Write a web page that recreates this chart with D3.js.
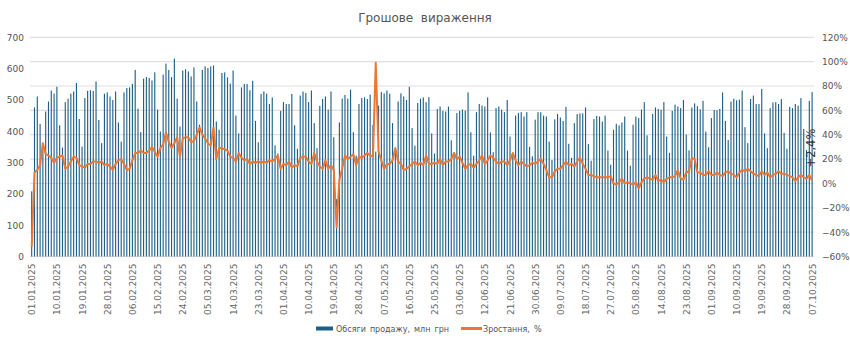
<!DOCTYPE html>
<html>
<head>
<meta charset="utf-8">
<script src="https://cdn.jsdelivr.net/npm/d3@7"></script>
<style>
  html, body { margin: 0; padding: 0; background: #fff; }
  svg { display: block; font-family: "DejaVu Sans", Verdana, sans-serif; }
</style>
</head>
<body>
<svg id="chart" width="850" height="343"></svg>
<script>
// Daily card sales, 01.01.2025 – 07.10.2025
const startDay = new Date(2025, 0, 1);
const endDay = new Date(2025, 9, 8);

// Sales volume, mln UAH (one value per day)
const salesVolume = [
  208, 476, 511, 423, 352, 463, 495, 530, 520, 542,
  419, 348, 493, 504, 520, 527, 554, 439, 351, 506,
  529, 531, 529, 559, 436, 362, 520, 524, 511, 500,
  527, 428, 367, 524, 538, 540, 551, 596, 472, 397,
  568, 573, 570, 562, 588, 469, 399, 581, 616, 596,
  573, 632, 504, 415, 594, 598, 591, 575, 604, 495,
  421, 596, 607, 602, 607, 610, 431, 405, 586, 588,
  572, 552, 594, 450, 393, 540, 551, 551, 531, 561,
  433, 365, 519, 527, 520, 487, 508, 355, 329, 465,
  493, 487, 487, 519, 419, 344, 514, 527, 522, 493,
  530, 426, 346, 481, 503, 511, 469, 527, 381, 183,
  428, 504, 516, 504, 533, 397, 322, 487, 506, 508,
  503, 517, 420, 335, 482, 525, 521, 530, 520, 426,
  346, 495, 521, 511, 500, 542, 410, 354, 490, 504,
  508, 493, 509, 393, 329, 471, 479, 465, 463, 479,
  371, 333, 458, 465, 469, 466, 524, 397, 322, 461,
  487, 482, 479, 508, 396, 333, 474, 479, 469, 461,
  500, 383, 330, 450, 458, 461, 447, 461, 350, 320,
  437, 461, 461, 450, 447, 367, 308, 438, 455, 444,
  433, 478, 360, 315, 426, 455, 457, 457, 476, 359,
  306, 439, 449, 447, 431, 450, 338, 293, 405, 424,
  419, 428, 447, 338, 290, 421, 447, 442, 469, 493,
  387, 324, 455, 476, 471, 469, 493, 383, 331, 465,
  485, 479, 474, 500, 389, 339, 476, 489, 480, 470,
  497, 399, 349, 442, 468, 467, 471, 524, 433, 372,
  495, 504, 499, 501, 530, 413, 362, 503, 514, 487,
  487, 535, 393, 346, 474, 492, 493, 487, 503, 395,
  344, 478, 474, 487, 482, 506, 407, 340, 497, 525
];

// Year-over-year growth, %
const growthPct = [
  -52, 9, 11, 15, 33, 24, 23, 21, 17, 21,
  22, 23, 12, 14, 18, 22, 21, 15, 14, 13,
  16, 16, 18, 18, 17, 18, 15, 16, 14, 11,
  16, 19, 20, 16, 11, 12, 19, 25, 25, 27,
  25, 25, 27, 30, 26, 22, 29, 32, 42, 34,
  29, 33, 38, 22, 37, 38, 38, 34, 35, 40,
  46, 40, 37, 33, 31, 46, 20, 29, 29, 28,
  27, 22, 21, 18, 25, 21, 19, 20, 16, 18,
  17, 18, 17, 18, 17, 19, 18, 20, 23, 12,
  16, 15, 18, 13, 15, 14, 21, 22, 22, 18,
  16, 25, 18, 14, 12, 19, 12, 15, 11, -36,
  3, 12, 23, 20, 22, 24, 15, 22, 21, 23,
  25, 23, 22, 99, 26, 19, 12, 16, 16, 19,
  29, 18, 16, 11, 12, 14, 16, 18, 15, 17,
  15, 23, 16, 16, 17, 16, 20, 15, 18, 18,
  20, 25, 20, 22, 17, 12, 15, 16, 13, 16,
  19, 23, 16, 19, 23, 21, 18, 16, 18, 18,
  15, 19, 25, 19, 15, 18, 16, 14, 15, 17,
  16, 18, 20, 16, 11, 5, 5, 10, 12, 12,
  15, 18, 15, 16, 14, 18, 21, 16, 12, 7,
  7, 6, 5, 5, 5, 5, 5, 6, 0, -1,
  1, 4, 0, 1, 0, -1, 1, -4, 1, 4,
  5, 4, 3, 7, 2, 3, 1, 4, 5, 5,
  6, 11, 4, 3, 9, 10, 21, 20, 9, 9,
  7, 7, 10, 7, 7, 9, 7, 6, 9, 10,
  8, 7, 5, 9, 11, 10, 12, 10, 8, 7,
  6, 10, 7, 9, 5, 7, 8, 10, 8, 8,
  7, 6, 5, 2, 5, 7, 5, 4, 7, 2.4
];

const tickLabels = [
  "01.01.2025", "10.01.2025", "19.01.2025", "28.01.2025", "06.02.2025",
  "15.02.2025", "24.02.2025", "05.03.2025", "14.03.2025", "23.03.2025",
  "01.04.2025", "10.04.2025", "19.04.2025", "28.04.2025", "07.05.2025",
  "16.05.2025", "25.05.2025", "03.06.2025", "12.06.2025", "21.06.2025",
  "30.06.2025", "09.07.2025", "18.07.2025", "27.07.2025", "05.08.2025",
  "14.08.2025", "23.08.2025", "01.09.2025", "10.09.2025", "19.09.2025",
  "28.09.2025", "07.10.2025"
];
const leftTicks = [0, 100, 200, 300, 400, 500, 600, 700];
const rightTicks = [-60, -40, -20, 0, 20, 40, 60, 80, 100, 120];

const titleText = "Грошове  вираження";
const seriesNames = ["Обсяги продажу, млн грн", "Зростання, %"];

const fmtDay = d3.timeFormat("%d.%m.%Y");
const days = d3.timeDay.range(startDay, endDay).map(fmtDay);

const svg = d3.select("#chart");
const plotTop = 37.3, plotBottom = 256.5;

const x = d3.scaleBand()
  .domain(days)
  .range([30.3, 813.5])
  .paddingInner(0.6)
  .paddingOuter(0.3);

const yLeft = d3.scaleLinear().domain([0, 700]).range([plotBottom, plotTop]);
const yRight = d3.scaleLinear().domain([-60, 120]).range([plotBottom, plotTop]);

const grey = "#555";
const barColor = "#1d5f86";
const lineColor = "#ee7634";

// Title
svg.append("text")
  .attr("x", 425).attr("y", 22)
  .attr("text-anchor", "middle")
  .attr("font-size", 12)
  .attr("fill", grey)
  .style("white-space", "pre")
  .text(titleText);

// Horizontal grid (on the percent scale)
svg.append("g")
  .selectAll("line")
  .data(rightTicks)
  .join("line")
  .attr("x1", 30).attr("x2", 814)
  .attr("y1", d => yRight(d)).attr("y2", d => yRight(d))
  .attr("stroke", "#e0e0e0")
  .attr("stroke-width", 1.2);

// Bars
svg.append("g")
  .selectAll("rect")
  .data(salesVolume)
  .join("rect")
  .attr("x", (d, i) => x(days[i]))
  .attr("width", x.bandwidth())
  .attr("y", d => yLeft(d))
  .attr("height", d => yLeft(0) - yLeft(d))
  .attr("fill", barColor);

// Growth line
const line = d3.line()
  .x((d, i) => x(days[i]) + x.bandwidth() / 2)
  .y(d => yRight(d));

svg.append("path")
  .datum(growthPct)
  .attr("d", line)
  .attr("fill", "none")
  .attr("stroke", lineColor)
  .attr("stroke-width", 2)
  .attr("stroke-linejoin", "round");

// Last-value label
const lastIdx = growthPct.length - 1;
const lastVal = growthPct[lastIdx];
const lastLabel = (lastVal >= 0 ? "+" : "−") + d3.format(".1f")(Math.abs(lastVal)).replace(".", ",") + "%";
const lx = x(days[lastIdx]) + x.bandwidth() / 2 + 3;
const ly = yRight(lastVal) - 13;
svg.append("text")
  .attr("transform", `translate(${lx},${ly}) rotate(-90)`)
  .attr("font-size", 11.5)
  .attr("fill", "#333")
  .text(lastLabel);

// Left axis labels
const leftAxis = d3.axisLeft(yLeft).tickValues(leftTicks).tickSize(0).tickPadding(0);
svg.append("g")
  .attr("transform", "translate(24,0)")
  .call(leftAxis)
  .call(g => g.select(".domain").remove())
  .call(g => g.selectAll("text")
    .attr("fill", grey)
    .attr("font-size", 9)
    .attr("font-family", "DejaVu Sans, sans-serif"));

// Right axis labels
const rightAxis = d3.axisRight(yRight).tickValues(rightTicks).tickSize(0).tickPadding(0)
  .tickFormat(d => (d < 0 ? "−" + Math.abs(d) : d) + "%");
svg.append("g")
  .attr("transform", "translate(822,0)")
  .call(rightAxis)
  .call(g => g.select(".domain").remove())
  .call(g => g.selectAll("text")
    .attr("fill", grey)
    .attr("font-size", 9)
    .attr("font-family", "DejaVu Sans, sans-serif"));

// Date labels along the bottom
const bottomAxis = d3.axisBottom(x).tickValues(tickLabels).tickSize(0).tickPadding(0);
svg.append("g")
  .attr("transform", `translate(0,${plotBottom})`)
  .call(bottomAxis)
  .call(g => g.select(".domain").remove())
  .call(g => g.selectAll("text")
    .attr("fill", "#666")
    .attr("font-size", 9)
    .attr("font-family", "DejaVu Sans, sans-serif")
    .attr("text-anchor", "end")
    .attr("dy", null)
    .attr("y", 0)
    .attr("transform", "translate(3.5,7) rotate(-90)"));

// Legend
const legend = svg.append("g").attr("font-size", 8).attr("fill", grey).attr("word-spacing", 1.5);
legend.append("rect")
  .attr("x", 316).attr("y", 326.5).attr("width", 17).attr("height", 4)
  .attr("fill", barColor);
legend.append("text")
  .attr("x", 336).attr("y", 331.5)
  .text(seriesNames[0]);
legend.append("line")
  .attr("x1", 461).attr("x2", 482).attr("y1", 328.5).attr("y2", 328.5)
  .attr("stroke", lineColor).attr("stroke-width", 3);
legend.append("text")
  .attr("x", 483).attr("y", 331.5)
  .text(seriesNames[1]);
</script>
</body>
</html>
